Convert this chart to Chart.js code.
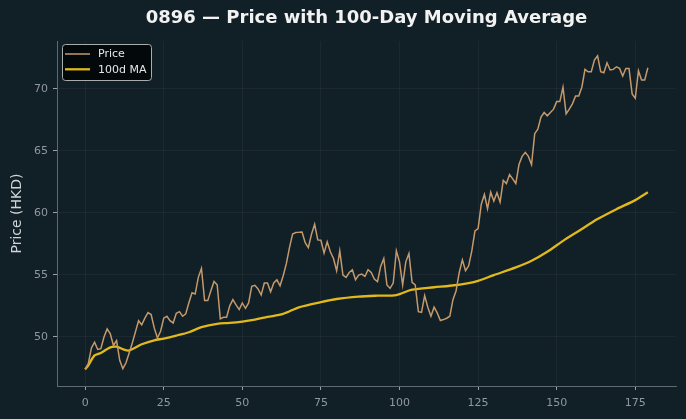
<!DOCTYPE html>
<html>
<head>
<meta charset="utf-8">
<script src="https://cdn.jsdelivr.net/npm/chart.js@4/dist/chart.umd.min.js"></script>
<style>
  html, body { margin: 0; padding: 0; background: #111f26; }
  #wrap { width: 686px; height: 419px; }
</style>
</head>
<body>
<div id="wrap"><canvas id="c" width="686" height="419"></canvas></div>
<script>
// price, one value per trading day (index 0..179)
const price = [
 47.37, 47.83, 49.1, 49.57, 48.98, 49.04, 49.98, 50.64, 50.24, 49.3,
 49.7, 48.1, 47.43, 47.9, 48.7, 49.5, 50.4, 51.3, 50.96, 51.5,
 51.95, 51.8, 50.7, 49.9, 50.45, 51.5, 51.65, 51.3, 51.12, 51.9,
 52.03, 51.66, 51.85, 52.75, 53.55, 53.45, 54.8, 55.52, 52.92, 52.92,
 53.72, 54.47, 54.2, 51.45, 51.58, 51.58, 52.5, 53.0, 52.57, 52.2,
 52.73, 52.3, 52.73, 54.07, 54.15, 53.86, 53.37, 54.34, 54.34, 53.64,
 54.34, 54.6, 54.12, 54.93, 55.9, 57.2, 58.3, 58.41, 58.43, 58.46,
 57.6, 57.2, 58.27, 59.08, 57.82, 57.79, 56.75, 57.66, 56.86, 56.32,
 55.33, 56.94, 54.98, 54.79, 55.19, 55.41, 54.6, 54.98, 55.06, 54.87,
 55.41, 55.19, 54.66, 54.45, 55.68, 56.32, 54.18, 53.91, 54.34, 56.94,
 56.05, 54.18, 56.05, 56.72, 54.39, 54.18, 52.03, 51.98, 53.32, 52.39,
 51.66, 52.39, 51.93, 51.31, 51.39, 51.5, 51.66, 53.0, 53.72, 55.19,
 56.21, 55.33, 55.73, 56.94, 58.54, 58.73, 60.68, 61.49, 60.34, 61.67,
 60.95, 61.62, 60.87, 62.63, 62.37, 63.09, 62.74, 62.37, 63.9, 64.56,
 64.88, 64.56, 63.9, 66.39, 66.76, 67.73, 68.1, 67.83, 68.1, 68.37,
 68.98, 68.98, 70.14, 67.99, 68.37, 68.8, 69.44, 69.44, 70.14, 71.58,
 71.39, 71.39, 72.33, 72.67, 71.39, 71.31, 72.11, 71.53, 71.58, 71.79,
 71.66, 71.04, 71.66, 71.66, 69.6, 69.25, 71.47, 70.72, 70.72, 71.71
];

// 100-day moving average at these days
const maDay = [0, 1, 3, 5, 8, 10, 12, 14, 18, 22, 25, 29, 33, 37, 42, 46, 50, 54, 58, 63,
  68, 75, 80, 87, 93, 99, 104, 111, 116, 122, 125, 130, 137, 142, 147, 152, 157, 163, 169, 175, 179];
const maVal = [47.37, 47.7, 48.5, 48.7, 49.15, 49.2, 49.0, 48.9, 49.4, 49.72, 49.86, 50.1, 50.37, 50.78, 51.05, 51.12, 51.23, 51.39, 51.6, 51.85,
  52.38, 52.8, 53.05, 53.24, 53.32, 53.37, 53.8, 54.0, 54.12, 54.34, 54.52, 54.98, 55.6, 56.13, 56.86, 57.74, 58.54, 59.5, 60.3, 61.03, 61.67];

const xTicks = [0, 25, 50, 75, 100, 125, 150, 175];
const yTicks = [50, 55, 60, 65, 70];

const labels = ['Price', '100d MA'];
const chartTitle = '0896 \u2014 Price with 100-Day Moving Average';

const priceColor = '#c49a6c';
const maColor = '#e2b91c';

const pricePts = price.map((v, i) => ({x: i, y: v}));
const maPts = maDay.map((d, i) => ({x: d, y: maVal[i]}));

// title centred over the plot area, like matplotlib does
const topTitle = {
  id: 'topTitle',
  afterDraw(chart) {
    const ctx = chart.ctx;
    const a = chart.chartArea;
    ctx.save();
    ctx.fillStyle = '#f2f2f2';
    ctx.font = 'bold 18px "DejaVu Sans"';
    ctx.textAlign = 'center';
    ctx.textBaseline = 'middle';
    ctx.fillText(chartTitle, (a.left + a.right) / 2, 18.5);
    ctx.restore();
  }
};

// legend box like the matplotlib one
const boxLegend = {
  id: 'boxLegend',
  afterDraw(chart) {
    const ctx = chart.ctx;
    const x = 62.5, y = 44.5, w = 89, h = 36;
    ctx.save();
    ctx.beginPath();
    ctx.roundRect(x, y, w, h, 3);
    ctx.fillStyle = 'rgba(2,6,8,0.92)';
    ctx.fill();
    ctx.strokeStyle = '#a8acae';
    ctx.lineWidth = 1;
    ctx.stroke();
    chart.data.datasets.forEach((ds, i) => {
      const ly = 54 + i * 15.3;
      ctx.beginPath();
      ctx.moveTo(65, ly);
      ctx.lineTo(90, ly);
      ctx.strokeStyle = ds.borderColor;
      ctx.lineWidth = ds.borderWidth;
      ctx.stroke();
      ctx.fillStyle = '#e6e6e6';
      ctx.font = '11px "DejaVu Sans"';
      ctx.textBaseline = 'middle';
      ctx.fillText(ds.label, 98, ly + 0.5);
    });
    ctx.restore();
  }
};

const bg = {
  id: 'bg',
  beforeDraw(chart) {
    const ctx = chart.ctx;
    ctx.save();
    ctx.fillStyle = '#111f26';
    ctx.fillRect(0, 0, chart.width, chart.height);
    ctx.restore();
  }
};

new Chart(document.getElementById('c'), {
  type: 'line',
  data: {
    datasets: [
      {label: labels[0], data: pricePts, borderColor: priceColor, borderWidth: 1.5, pointRadius: 0, tension: 0, fill: false},
      {label: labels[1], data: maPts, borderColor: maColor, borderWidth: 2.3, pointRadius: 0, tension: 0.3, fill: false}
    ]
  },
  options: {
    responsive: false,
    animation: false,
    layout: {padding: {top: 41, left: 0, right: 10, bottom: 0}},
    plugins: {
      legend: {display: false},
      tooltip: {enabled: false},
      title: {display: false}
    },
    scales: {
      x: {
        type: 'linear',
        min: -8.95,
        max: 187.95,
        afterBuildTicks: s => { s.ticks = xTicks.map(v => ({value: v})); },
        afterFit: s => { s.height = 33; },
        ticks: {color: '#8f989d', font: {family: 'DejaVu Sans', size: 11}, padding: 7, maxRotation: 0},
        grid: {color: 'rgba(255,255,255,0.045)', tickColor: '#9aa0a3', tickLength: 4},
        border: {display: true, color: '#5f6a6f', width: 1}
      },
      y: {
        type: 'linear',
        min: 46.03,
        max: 73.87,
        afterBuildTicks: s => { s.ticks = yTicks.map(v => ({value: v})); },
        afterFit: s => { s.width = 57; },
        ticks: {color: '#8f989d', font: {family: 'DejaVu Sans', size: 11}, padding: 5},
        grid: {color: 'rgba(255,255,255,0.045)', tickColor: '#9aa0a3', tickLength: 4},
        border: {display: true, color: '#5f6a6f', width: 1},
        title: {display: true, text: 'Price (HKD)', color: '#cfd4d6', font: {family: 'DejaVu Sans', size: 14}, padding: {top: 9, bottom: 0}}
      }
    }
  },
  plugins: [bg, topTitle, boxLegend]
});
</script>
</body>
</html>
